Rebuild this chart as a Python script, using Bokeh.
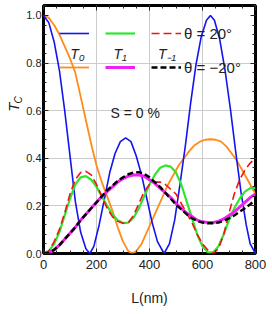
from bokeh.plotting import figure
from bokeh.layouts import row
from bokeh.models import (Range1d, SingleIntervalTicker, FixedTicker, NumeralTickFormatter,
                          LinearAxis, Legend, LegendItem, Label, CustomJSTickFormatter)
from bokeh.embed import file_html
from bokeh.resources import INLINE

# ---- data ----
L_t0p = [0, 20, 40, 60, 80, 100, 120, 140, 160, 175, 190, 210, 230, 250, 270, 290, 310, 330, 350, 370,
         390, 410, 430, 455, 475, 495, 515, 535, 555, 575, 595, 615, 630, 645, 665, 685, 705, 725, 745,
         765, 780, 800]
T0_p = [1.00, 0.97, 0.89, 0.77, 0.60, 0.41, 0.22, 0.09, 0.02, 0.00, 0.03, 0.12, 0.23, 0.34, 0.42, 0.47,
        0.486, 0.47, 0.41, 0.33, 0.23, 0.13, 0.05, 0.00, 0.04, 0.14, 0.29, 0.45, 0.63, 0.79, 0.91, 0.98,
        1.00, 0.98, 0.90, 0.77, 0.61, 0.43, 0.26, 0.12, 0.04, 0.00]

L_t0m = [0, 20, 40, 60, 80, 100, 120, 140, 160, 180, 200, 220, 240, 260, 280, 300, 320, 335, 350, 370,
         390, 410, 430, 450, 470, 490, 510, 530, 550, 570, 590, 610, 630, 650, 670, 690, 710, 730, 750,
         770, 790, 800]
T0_m = [1.00, 0.99, 0.96, 0.92, 0.87, 0.82, 0.76, 0.66, 0.56, 0.46, 0.37, 0.30, 0.24, 0.18, 0.11, 0.05,
        0.01, 0.00, 0.01, 0.04, 0.09, 0.14, 0.19, 0.24, 0.29, 0.33, 0.37, 0.40, 0.43, 0.455, 0.47, 0.478,
        0.48, 0.478, 0.47, 0.45, 0.42, 0.39, 0.35, 0.31, 0.27, 0.25]

L_20 = [0, 20, 40, 60, 80, 100, 120, 140, 160, 180, 200, 220, 240, 260, 280, 300, 320, 340, 360, 380,
        400, 420, 440, 460, 480, 500, 520, 540, 560, 580, 600, 620, 640, 660, 680, 700, 720, 740, 760,
        780, 800]
T1_p = [0.0, 0.01, 0.04, 0.09, 0.16, 0.23, 0.29, 0.32, 0.325, 0.31, 0.28, 0.24, 0.20, 0.165, 0.14, 0.128,
        0.13, 0.15, 0.19, 0.24, 0.29, 0.33, 0.36, 0.37, 0.365, 0.34, 0.29, 0.22, 0.15, 0.08, 0.03, 0.005,
        0.005, 0.03, 0.08, 0.14, 0.19, 0.23, 0.26, 0.275, 0.275]
Tm1_p = [0.0, 0.01, 0.05, 0.10, 0.17, 0.25, 0.31, 0.34, 0.345, 0.33, 0.29, 0.24, 0.19, 0.155, 0.135,
         0.127, 0.13, 0.16, 0.21, 0.26, 0.29, 0.30, 0.30, 0.29, 0.27, 0.25, 0.21, 0.17, 0.13, 0.08, 0.04,
         0.015, 0.0, 0.02, 0.08, 0.17, 0.25, 0.31, 0.35, 0.38, 0.40]
T1_m = [0.0, 0.003, 0.015, 0.035, 0.06, 0.085, 0.11, 0.14, 0.165, 0.19, 0.215, 0.24, 0.26, 0.28, 0.30,
        0.315, 0.325, 0.33, 0.33, 0.325, 0.31, 0.295, 0.275, 0.255, 0.235, 0.21, 0.19, 0.17, 0.155, 0.14,
        0.133, 0.13, 0.13, 0.135, 0.145, 0.16, 0.175, 0.195, 0.215, 0.235, 0.25]
Tm1_m = [0.0, 0.003, 0.015, 0.035, 0.06, 0.085, 0.11, 0.14, 0.165, 0.19, 0.215, 0.24, 0.265, 0.285,
         0.305, 0.32, 0.333, 0.34, 0.342, 0.335, 0.32, 0.30, 0.28, 0.255, 0.23, 0.205, 0.185, 0.165, 0.148,
         0.137, 0.13, 0.127, 0.127, 0.13, 0.137, 0.148, 0.16, 0.175, 0.19, 0.207, 0.225]

x_ticks_interval = 200
y_ticks_interval = 0.2
row_labels = ["θ = 20°", "θ = −20°"]
order_labels = ["T₀", "T₁", "T₋₁"]

FONT = "Liberation Sans"
TXT = "#222222"
H = 310

# ---- narrow strip holding the y-axis title T_C ----
LW = 23
p2 = figure(width=LW, height=H, output_backend="svg", toolbar_location=None,
            x_range=Range1d(0, LW), y_range=Range1d(0, H),
            x_axis_location=None, y_axis_location=None,
            min_border_left=0, min_border_right=0, min_border_top=0, min_border_bottom=0)
p2.outline_line_color = None
p2.background_fill_color = "white"
p2.border_fill_color = "white"
p2.grid.visible = False
p2.add_layout(Label(x=13, y=H - 127, text="T", angle=1.5708, text_align="center", text_baseline="middle",
                    text_font=FONT, text_font_style="italic", text_font_size="15px", text_color=TXT))
p2.add_layout(Label(x=17.5, y=H - 118, text="C", angle=1.5708, text_align="center", text_baseline="middle",
                    text_font=FONT, text_font_style="italic", text_font_size="10px", text_color=TXT))

# ---- main plot ----
p = figure(width=249, height=H, output_backend="svg", toolbar_location=None,
           x_range=Range1d(0, 800), y_range=Range1d(0, 1.042),
           min_border_left=18, min_border_right=17, min_border_top=5, min_border_bottom=57)
p.background_fill_color = "white"
p.border_fill_color = "white"
p.outline_line_color = "black"
p.outline_line_width = 3

p.xaxis.ticker = SingleIntervalTicker(interval=x_ticks_interval, num_minor_ticks=4)
p.yaxis.ticker = SingleIntervalTicker(interval=y_ticks_interval, num_minor_ticks=5)
p.yaxis.formatter = NumeralTickFormatter(format="0.0")
p.xaxis.formatter = NumeralTickFormatter(format="0")
for ax in (p.xaxis[0], p.yaxis[0]):
    ax.axis_line_color = None
    ax.major_tick_in = 5
    ax.major_tick_out = 0
    ax.minor_tick_in = 3
    ax.minor_tick_out = 0
    ax.major_tick_line_color = TXT
    ax.minor_tick_line_color = TXT
    ax.major_label_text_font = FONT
    ax.major_label_text_color = TXT
p.xaxis.major_label_text_font_size = "13px"
p.yaxis.major_label_text_font_size = "11px"
p.xaxis.major_label_standoff = 6
p.yaxis.major_label_standoff = 2
p.xaxis.axis_label = "L(nm)"
p.xaxis.axis_label_text_font = FONT
p.xaxis.axis_label_text_font_style = "normal"
p.xaxis.axis_label_text_font_size = "14px"
p.xaxis.axis_label_text_color = TXT
p.xaxis.axis_label_standoff = 18

for loc in ("right", "above"):
    ax = LinearAxis(ticker=SingleIntervalTicker(interval=x_ticks_interval if loc == "above" else y_ticks_interval,
                                                num_minor_ticks=4 if loc == "above" else 5),
                    formatter=CustomJSTickFormatter(code="return ''"),
                    axis_line_color=None, major_tick_in=5, major_tick_out=0, minor_tick_in=3,
                    minor_tick_out=0, major_label_standoff=0, major_label_text_font_size="1px",
                    major_tick_line_color=TXT, minor_tick_line_color=TXT)
    p.add_layout(ax, loc)

p.xgrid.ticker = FixedTicker(ticks=[200, 400, 600])
p.ygrid.ticker = FixedTicker(ticks=[0.2, 0.4, 0.6, 0.8])
p.xgrid.grid_line_color = "#cccccc"
p.ygrid.grid_line_color = "#cccccc"

r_t0m = p.line(L_t0m, T0_m, line_color="#ff8c1a", line_width=1.8)
r_t0p = p.line(L_t0p, T0_p, line_color="#1414f0", line_width=1.6)
r_t1p = p.line(L_20, T1_p, line_color="#2ee62e", line_width=2.2)
r_tm1p = p.line(L_20, Tm1_p, line_color="#f01414", line_width=1.6, line_dash="8 4")
r_t1m = p.line(L_20, T1_m, line_color="#f020f0", line_width=3)
r_tm1m = p.line(L_20, Tm1_m, line_color="black", line_width=2.4, line_dash="6 3")

def make_legend(rends, label, y):
    items = [LegendItem(label="", renderers=[rends[0]]),
             LegendItem(label="", renderers=[rends[1]]),
             LegendItem(label=label, renderers=[rends[2]])]
    lg = Legend(items=items, orientation="horizontal", location=(16, y),
                glyph_width=30, glyph_height=20, label_height=20, label_width=0,
                label_standoff=3, spacing=13, padding=0, margin=0,
                background_fill_alpha=0, border_line_alpha=0,
                label_text_font=FONT, label_text_font_size="15px", label_text_color=TXT)
    p.add_layout(lg)

make_legend([r_t0p, r_t1p, r_tm1p], row_labels[0], 210)
make_legend([r_t0m, r_t1m, r_tm1m], row_labels[1], 176)

for txt, xx in zip(order_labels, [128, 289, 466]):
    p.add_layout(Label(x=xx, y=0.84, text=txt, text_align="center", text_baseline="middle",
                       text_font=FONT, text_font_style="italic", text_font_size="14px",
                       text_color=TXT))

p.add_layout(Label(x=346, y=0.59, text="S = 0 %", text_align="center", text_baseline="middle",
                   text_font=FONT, text_font_size="14px", text_color=TXT))

layout = row(p2, p)
open("out.html", "w").write(file_html(layout, INLINE))
